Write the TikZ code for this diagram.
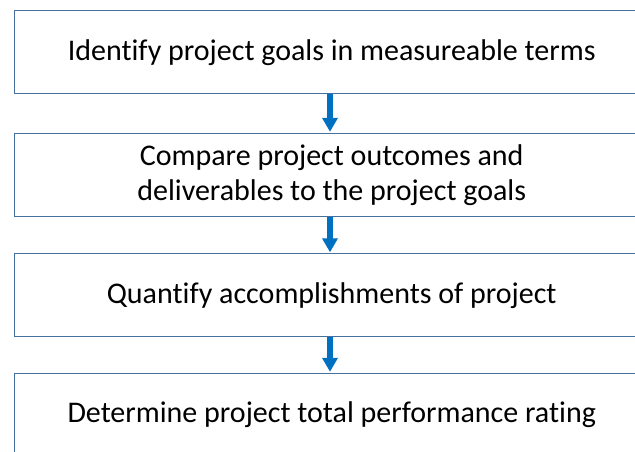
\documentclass[tikz,border=0pt]{standalone}
\usepackage{fontspec}
\setmainfont[Ligatures=NoCommon]{Carlito}
\usetikzlibrary{arrows.meta}
\definecolor{boxline}{RGB}{70,112,160}
\definecolor{flowblue}{RGB}{0,112,192}
\begin{document}
\begin{tikzpicture}[x=1pt,y=-1pt,
  stepbox/.style={draw=boxline, line width=1.4pt, fill=white, minimum width=634pt,
    minimum height=83pt, inner sep=0pt, anchor=north west, align=center,
    font=\fontsize{30}{35}\selectfont},
  flow/.style={draw=flowblue, line width=6pt,
    -{Triangle[length=14pt,width=15pt]}, shorten >=0.7pt}]
\useasboundingbox (0,0) rectangle (635,451);
\begin{scope}
\clip (0,0) rectangle (635,451);
\node[stepbox] (s1) at (14,10) {Identify project goals in measureable terms};
\node[stepbox] (s2) at (14,132.5) {Compare project outcomes and\\deliverables to the project goals};
\node[stepbox] (s3) at (14,253) {Quantify accomplishments of project};
\node[stepbox] (s4) at (14,372.5) {Determine project total performance rating};
\draw[flow] (s1.south -| 330,0) -- (s2.north -| 330,0);
\draw[flow] (s2.south -| 330,0) -- (s3.north -| 330,0);
\draw[flow] (s3.south -| 330,0) -- (s4.north -| 330,0);
\end{scope}
\end{tikzpicture}
\end{document}
